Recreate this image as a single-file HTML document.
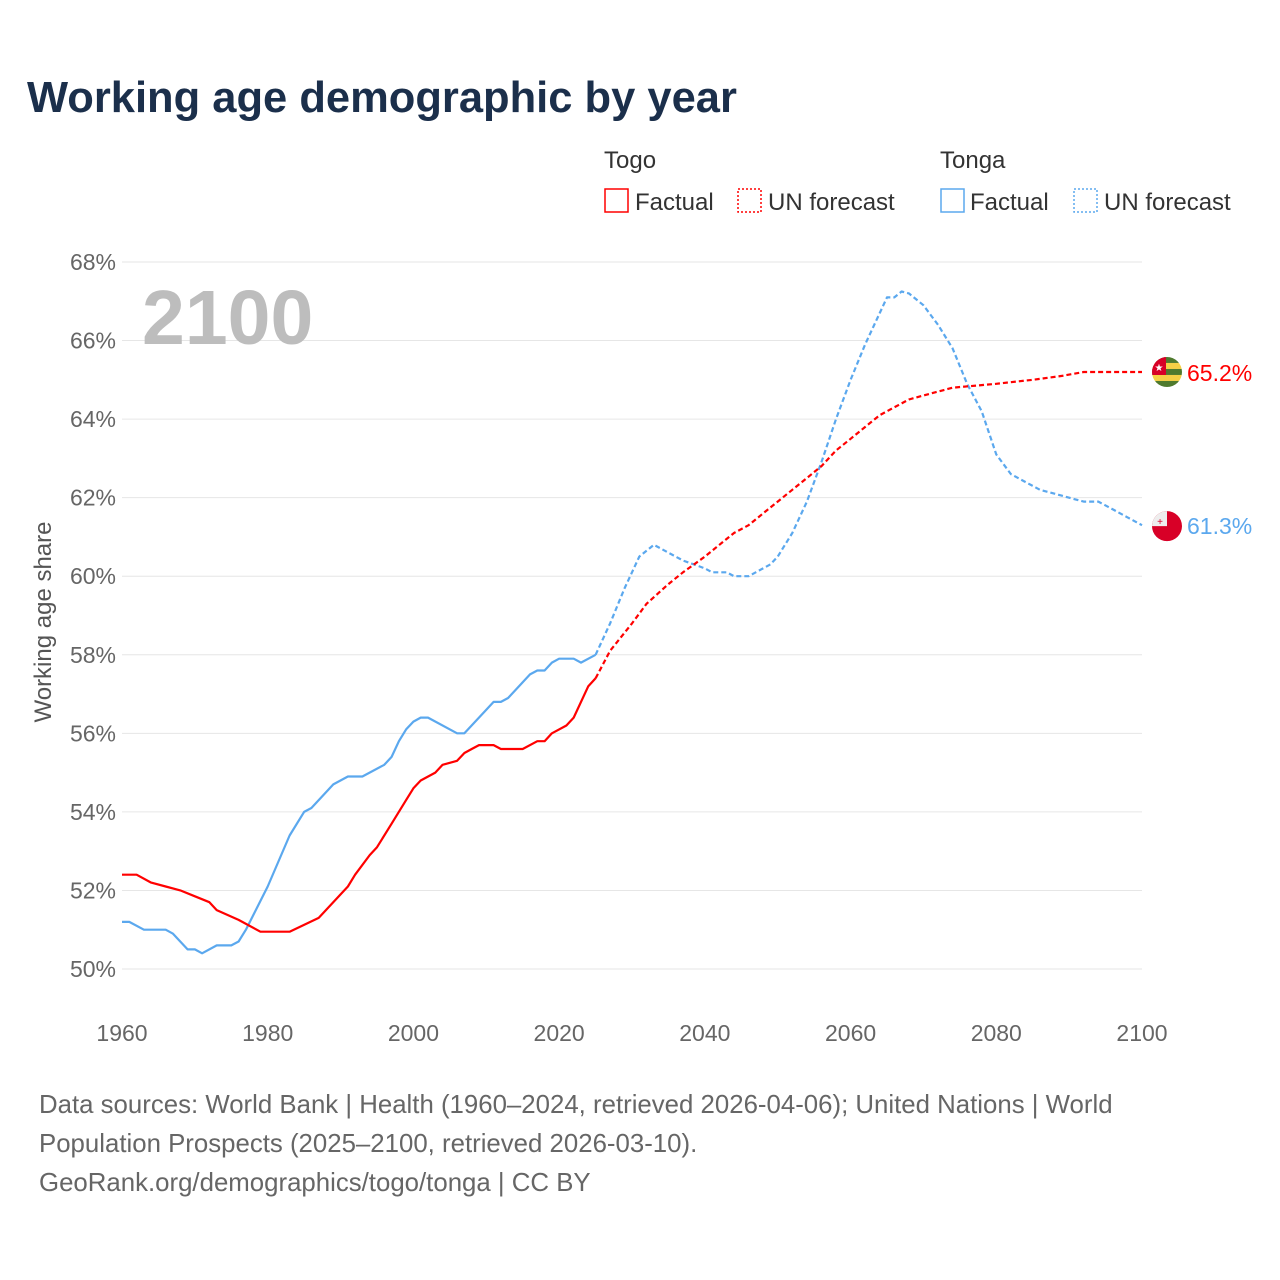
<!DOCTYPE html>
<html><head><meta charset="utf-8"><style>
body{margin:0;background:#fff;font-family:"Liberation Sans",sans-serif;}
svg{display:block}
</style></head><body>
<svg id="chart" width="1280" height="1280" xmlns="http://www.w3.org/2000/svg" font-family="Liberation Sans, sans-serif">
<text x="27" y="112" font-size="43.5" font-weight="bold" fill="#1b2f4b">Working age demographic by year</text>
<g font-size="24" fill="#333">
<text x="604" y="168">Togo</text>
<text x="940" y="168">Tonga</text>
<g><rect x="605" y="189" width="23" height="23" fill="none" stroke="#f00" stroke-width="1.5"/><text x="635" y="210">Factual</text></g>
<g><rect x="738" y="189" width="23" height="23" fill="none" stroke="#f00" stroke-width="1.5" stroke-dasharray="2,2"/><text x="768" y="210">UN forecast</text></g>
<g><rect x="941" y="189" width="23" height="23" fill="none" stroke="#5ba8ee" stroke-width="1.5"/><text x="970" y="210">Factual</text></g>
<g><rect x="1074" y="189" width="23" height="23" fill="none" stroke="#5ba8ee" stroke-width="1.5" stroke-dasharray="2,2"/><text x="1104" y="210">UN forecast</text></g>
</g>
<g id="grid"></g>
<text x="142" y="344" font-size="77" font-weight="bold" fill="#bdbdbd">2100</text>
<text transform="translate(51,622) rotate(-90)" text-anchor="middle" font-size="24" fill="#555">Working age share</text>
<g id="series"></g>
<g font-size="25.8" fill="#666">
<text x="39" y="1113">Data sources: World Bank | Health (1960–2024, retrieved 2026-04-06); United Nations | World</text>
<text x="39" y="1152">Population Prospects (2025–2100, retrieved 2026-03-10).</text>
<text x="39" y="1191">GeoRank.org/demographics/togo/tonga | CC BY</text>
</g>
</svg>
<script>
const yTicks=[50,52,54,56,58,60,62,64,66,68];
const xTicks=[1960,1980,2000,2020,2040,2060,2080,2100];
const togoFactYears=[1960,1962,1964,1966,1968,1970,1972,1973,1976,1979,1983,1987,1991,1992,1994,1995,1997,1999,2000,2001,2003,2004,2006,2007,2008,2009,2011,2012,2015,2017,2018,2019,2021,2022,2024,2025];
const togoFactVals=[52.4,52.4,52.2,52.1,52.0,51.85,51.7,51.5,51.25,50.95,50.95,51.3,52.1,52.4,52.9,53.1,53.7,54.3,54.6,54.8,55.0,55.2,55.3,55.5,55.6,55.7,55.7,55.6,55.6,55.8,55.8,56.0,56.2,56.4,57.2,57.4];
const togoFcYears=[2025,2027,2030,2032,2035,2037,2040,2042,2044,2046,2048,2050,2052,2054,2056,2058,2060,2062,2064,2066,2068,2070,2072,2074,2080,2085,2089,2092,2100];
const togoFcVals=[57.4,58.1,58.8,59.3,59.8,60.1,60.5,60.8,61.1,61.3,61.6,61.9,62.2,62.5,62.8,63.2,63.5,63.8,64.1,64.3,64.5,64.6,64.7,64.8,64.9,65.0,65.1,65.2,65.2];
const tongaFactYears=[1960,1961,1963,1966,1967,1969,1970,1971,1973,1975,1976,1977,1980,1983,1985,1986,1989,1991,1993,1996,1997,1998,1999,2000,2001,2002,2006,2007,2010,2011,2012,2013,2016,2017,2018,2019,2020,2022,2023,2025];
const tongaFactVals=[51.2,51.2,51.0,51.0,50.9,50.5,50.5,50.4,50.6,50.6,50.7,51.0,52.1,53.4,54.0,54.1,54.7,54.9,54.9,55.2,55.4,55.8,56.1,56.3,56.4,56.4,56.0,56.0,56.6,56.8,56.8,56.9,57.5,57.6,57.6,57.8,57.9,57.9,57.8,58.0];
const tongaFcYears=[2025,2027,2029,2031,2033,2035,2037,2040,2041,2043,2044,2046,2049,2050,2052,2054,2056,2058,2060,2062,2064,2065,2066,2067,2068,2070,2072,2074,2076,2078,2080,2082,2084,2086,2088,2090,2092,2094,2096,2098,2100];
const tongaFcVals=[58.0,58.8,59.7,60.5,60.8,60.6,60.4,60.2,60.1,60.1,60.0,60.0,60.3,60.5,61.1,61.9,62.9,64.0,65.0,65.9,66.7,67.1,67.1,67.25,67.2,66.9,66.4,65.8,64.9,64.2,63.1,62.6,62.4,62.2,62.1,62.0,61.9,61.9,61.7,61.5,61.3];
const NS="http://www.w3.org/2000/svg";
const X=y=>122+(y-1960)*(1020/140);
const Y=v=>969-(v-50)*(707/18);
function mk(t,a,p){const e=document.createElementNS(NS,t);for(const k in a)e.setAttribute(k,a[k]);p.appendChild(e);return e;}
const grid=document.getElementById('grid');
yTicks.forEach(v=>{
 const l=mk('line',{x1:122,x2:1142,y1:Y(v),y2:Y(v),stroke:'#e6e6e6','stroke-width':1},grid);
 
 
 const t=mk('text',{x:116,y:Y(v)+8,'text-anchor':'end','font-size':23,fill:'#666'},grid);
 t.textContent=v+'%';
 
 
});
xTicks.forEach(y=>{
 const t=mk('text',{x:X(y),y:1041,'text-anchor':'middle','font-size':23,fill:'#666'},grid);
 t.textContent=y;
 
 
});
const ser=document.getElementById('series');
function line(ys,vs,col,dash,name){
 const d=ys.map((y,i)=>(i?'L':'M')+X(y).toFixed(1)+','+Y(vs[i]).toFixed(1)).join('');
 const a={d:d,fill:'none',stroke:col,'stroke-width':2.2,'stroke-linejoin':'round'};
 if(dash)a['stroke-dasharray']='5,3';
 const p=mk('path',a,ser);
 
 
}
line(tongaFactYears,tongaFactVals,'#5ba8ee',false,'tonga-factual-line');
line(togoFactYears,togoFactVals,'#ff0000',false,'togo-factual-line');
line(tongaFcYears,tongaFcVals,'#5ba8ee',true,'tonga-forecast-line');
line(togoFcYears,togoFcVals,'#ff0000',true,'togo-forecast-line');
const tgY=Y(togoFcVals[togoFcVals.length-1]), toY=Y(tongaFcVals[tongaFcVals.length-1]);
const g1=mk('g',{},ser);


const cp=mk('clipPath',{id:'c1'},g1);
mk('circle',{cx:1167,cy:tgY,r:15},cp);
const gg=mk('g',{'clip-path':'url(#c1)'},g1);
for(let i=0;i<5;i++)mk('rect',{x:1152,y:tgY-15+i*6,width:30,height:6,fill:i%2?'#f5d046':'#4f7a2e'},gg);
mk('rect',{x:1152,y:tgY-15,width:14,height:18,fill:'#d80027'},gg);
mk('text',{x:1159,y:tgY-1,'font-size':10,fill:'#fff','text-anchor':'middle'},gg).textContent='★';
const g2=mk('g',{},ser);


mk('circle',{cx:1167,cy:toY+1,r:15,fill:'#d80027'},g2);
mk('path',{d:`M1152,${toY+1} A15,15 0 0 1 1167,${toY-14} L1167,${toY+1} Z`,fill:'#eee'},g2);
mk('text',{x:1160,y:toY,'font-size':10,fill:'#d80027','text-anchor':'middle'},g2).textContent='+';
const l1=mk('text',{x:1187,y:tgY+9,'font-size':23,fill:'#ff0000'},ser);
l1.textContent='65.2%';


const l2=mk('text',{x:1187,y:toY+9,'font-size':23,fill:'#5ba8ee'},ser);
l2.textContent='61.3%';


</script>
</body></html>
